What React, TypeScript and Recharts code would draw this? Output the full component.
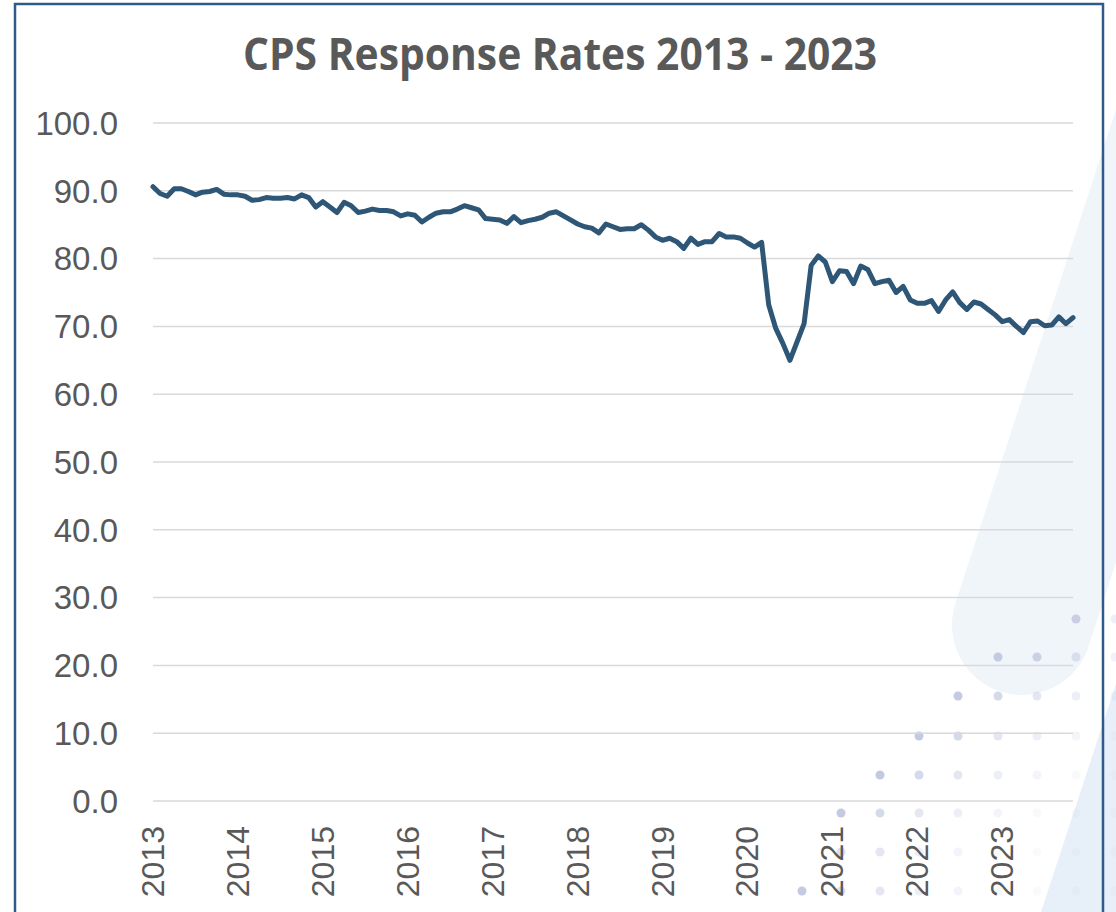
import React from 'react';
import { LineChart, Line, XAxis, YAxis, CartesianGrid } from 'recharts';

const YEARS = ['2013', '2014', '2015', '2016', '2017', '2018', '2019', '2020', '2021', '2022', '2023'];
const MONTHS = ['Jan', 'Feb', 'Mar', 'Apr', 'May', 'Jun', 'Jul', 'Aug', 'Sep', 'Oct', 'Nov', 'Dec'];

const RATES_2013 = [90.6, 89.6, 89.2, 90.3, 90.3, 89.9, 89.4, 89.8, 89.9, 90.2, 89.5, 89.4];
const RATES_2014 = [89.4, 89.2, 88.6, 88.7, 89.0, 88.9, 88.9, 89.0, 88.8, 89.4, 89.0, 87.6];
const RATES_2015 = [88.4, 87.6, 86.8, 88.3, 87.8, 86.8, 87.0, 87.3, 87.1, 87.1, 86.9, 86.3];
const RATES_2016 = [86.6, 86.4, 85.4, 86.1, 86.7, 86.9, 86.9, 87.3, 87.8, 87.5, 87.2, 85.9];
const RATES_2017 = [85.8, 85.7, 85.2, 86.2, 85.3, 85.6, 85.8, 86.1, 86.7, 86.9, 86.3, 85.7];
const RATES_2018 = [85.1, 84.7, 84.5, 83.8, 85.1, 84.7, 84.3, 84.4, 84.4, 85.0, 84.2, 83.2];
const RATES_2019 = [82.7, 83.0, 82.5, 81.5, 83.0, 82.1, 82.5, 82.5, 83.7, 83.2, 83.2, 83.0];
const RATES_2020 = [82.3, 81.7, 82.4, 73.2, 69.7, 67.5, 65.0, 67.7, 70.4, 79.0, 80.4, 79.5];
const RATES_2021 = [76.6, 78.2, 78.1, 76.3, 78.9, 78.4, 76.3, 76.6, 76.8, 75.0, 75.9, 73.9];
const RATES_2022 = [73.4, 73.4, 73.8, 72.2, 73.9, 75.1, 73.5, 72.5, 73.6, 73.3, 72.5, 71.7];
const RATES_2023 = [70.7, 71.0, 70.0, 69.1, 70.7, 70.8, 70.1, 70.2, 71.4, 70.4, 71.3];

const RATES_BY_YEAR = [
  RATES_2013, RATES_2014, RATES_2015, RATES_2016, RATES_2017, RATES_2018,
  RATES_2019, RATES_2020, RATES_2021, RATES_2022, RATES_2023,
];

const Y_TICKS = [0, 10, 20, 30, 40, 50, 60, 70, 80, 90, 100];

const TITLE = 'CPS Response Rates 2013 - 2023';

const data = YEARS.flatMap((year, yi) =>
  RATES_BY_YEAR[yi].map((rate, mi) => ({ month: `${MONTHS[mi]} ${year}`, rate }))
);

// decorative dot pattern (background only): [rowY, startCol, opacities]
const DOT_COLS = [802, 841, 880, 919, 958, 998, 1037, 1076, 1115];
const DOT_ROWS: [number, number, number[]][] = [
  [619, 7, [0.9, 0.3]],
  [657, 5, [1.0, 0.85, 0.55, 0.25]],
  [696, 4, [1.0, 0.7, 0.45, 0.3, 0.2]],
  [736, 3, [1.0, 0.7, 0.45, 0.3, 0.18, 0.12]],
  [775, 2, [1.0, 0.7, 0.45, 0.3, 0.18, 0.12, 0.1]],
  [813, 1, [1.0, 0.7, 0.45, 0.3, 0.18, 0.12, 0.1, 0.1]],
  [852, 1, [0.6, 0.45, 0.3, 0.2, 0.12, 0.1, 0.1, 0.1]],
  [891, 0, [1.0, 0.6, 0.45, 0.3, 0.2, 0.15, 0.1, 0.1, 0.1]],
];

const TEXT_COLOR = '#595959';
const TICK_FONT = "'Liberation Sans', Arial, sans-serif";

const XTick = (props: any) => {
  const { x, y, payload } = props;
  const label = String(payload.value).split(' ')[1];
  return (
    <text
      x={x}
      y={y}
      transform={`rotate(-90, ${x}, ${y})`}
      textAnchor="end"
      dominantBaseline="central"
      fontSize={32}
      fill={TEXT_COLOR}
      fontFamily={TICK_FONT}
    >
      {label}
    </text>
  );
};

export default function App() {
  return (
    <div style={{ position: 'absolute', left: 0, top: 0, width: 1116, height: 912, background: '#fff', overflow: 'hidden' }}>
      <svg width={1116} height={912} style={{ position: 'absolute', left: 0, top: 0 }}>
        <rect
          x={-70}
          y={-1000}
          width={140}
          height={1070}
          rx={70}
          fill="#F0F5FA"
          transform="translate(1022, 625) rotate(18)"
        />
        <polygon points="1116,684 1041,912 1116,912" fill="#E7EFF8" />
        {DOT_ROWS.map(([y, start, ops], ri) =>
          ops.map((op, k) => (
            <circle key={`${ri}-${k}`} cx={DOT_COLS[start + k]} cy={y} r={4.5} fill="#C3CAE1" fillOpacity={op} />
          ))
        )}
        <rect x={15} y={4} width={1088} height={960} fill="none" stroke="#2F5A8A" strokeWidth={2.5} />
        <text
          x={560}
          y={70}
          textAnchor="middle"
          fontSize={44}
          fontWeight="bold"
          fontFamily="'Open Sans', sans-serif"
          fill={TEXT_COLOR}
          textLength={634}
          lengthAdjust="spacingAndGlyphs"
        >
          {TITLE}
        </text>
      </svg>
      <div style={{ position: 'absolute', left: 0, top: 0 }}>
        <LineChart width={1116} height={912} data={data} margin={{ top: 123, right: 43, bottom: 0, left: 0 }}>
          <CartesianGrid vertical={false} stroke="#D9D9D9" strokeWidth={1.5} />
          <XAxis
            dataKey="month"
            interval={11}
            tick={<XTick />}
            tickSize={0}
            tickMargin={25}
            axisLine={false}
            tickLine={false}
            height={111}
          />
          <YAxis
            domain={[0, 100]}
            ticks={Y_TICKS}
            tickFormatter={(v: number) => v.toFixed(1)}
            tick={{ fontSize: 33, fill: TEXT_COLOR, fontFamily: TICK_FONT }}
            tickSize={0}
            tickMargin={35}
            axisLine={false}
            tickLine={false}
            width={153}
            interval={0}
          />
          <Line
            type="linear"
            dataKey="rate"
            stroke="#2D5677"
            strokeWidth={5}
            strokeLinejoin="round"
            strokeLinecap="round"
            dot={false}
            isAnimationActive={false}
          />
        </LineChart>
      </div>
    </div>
  );
}
